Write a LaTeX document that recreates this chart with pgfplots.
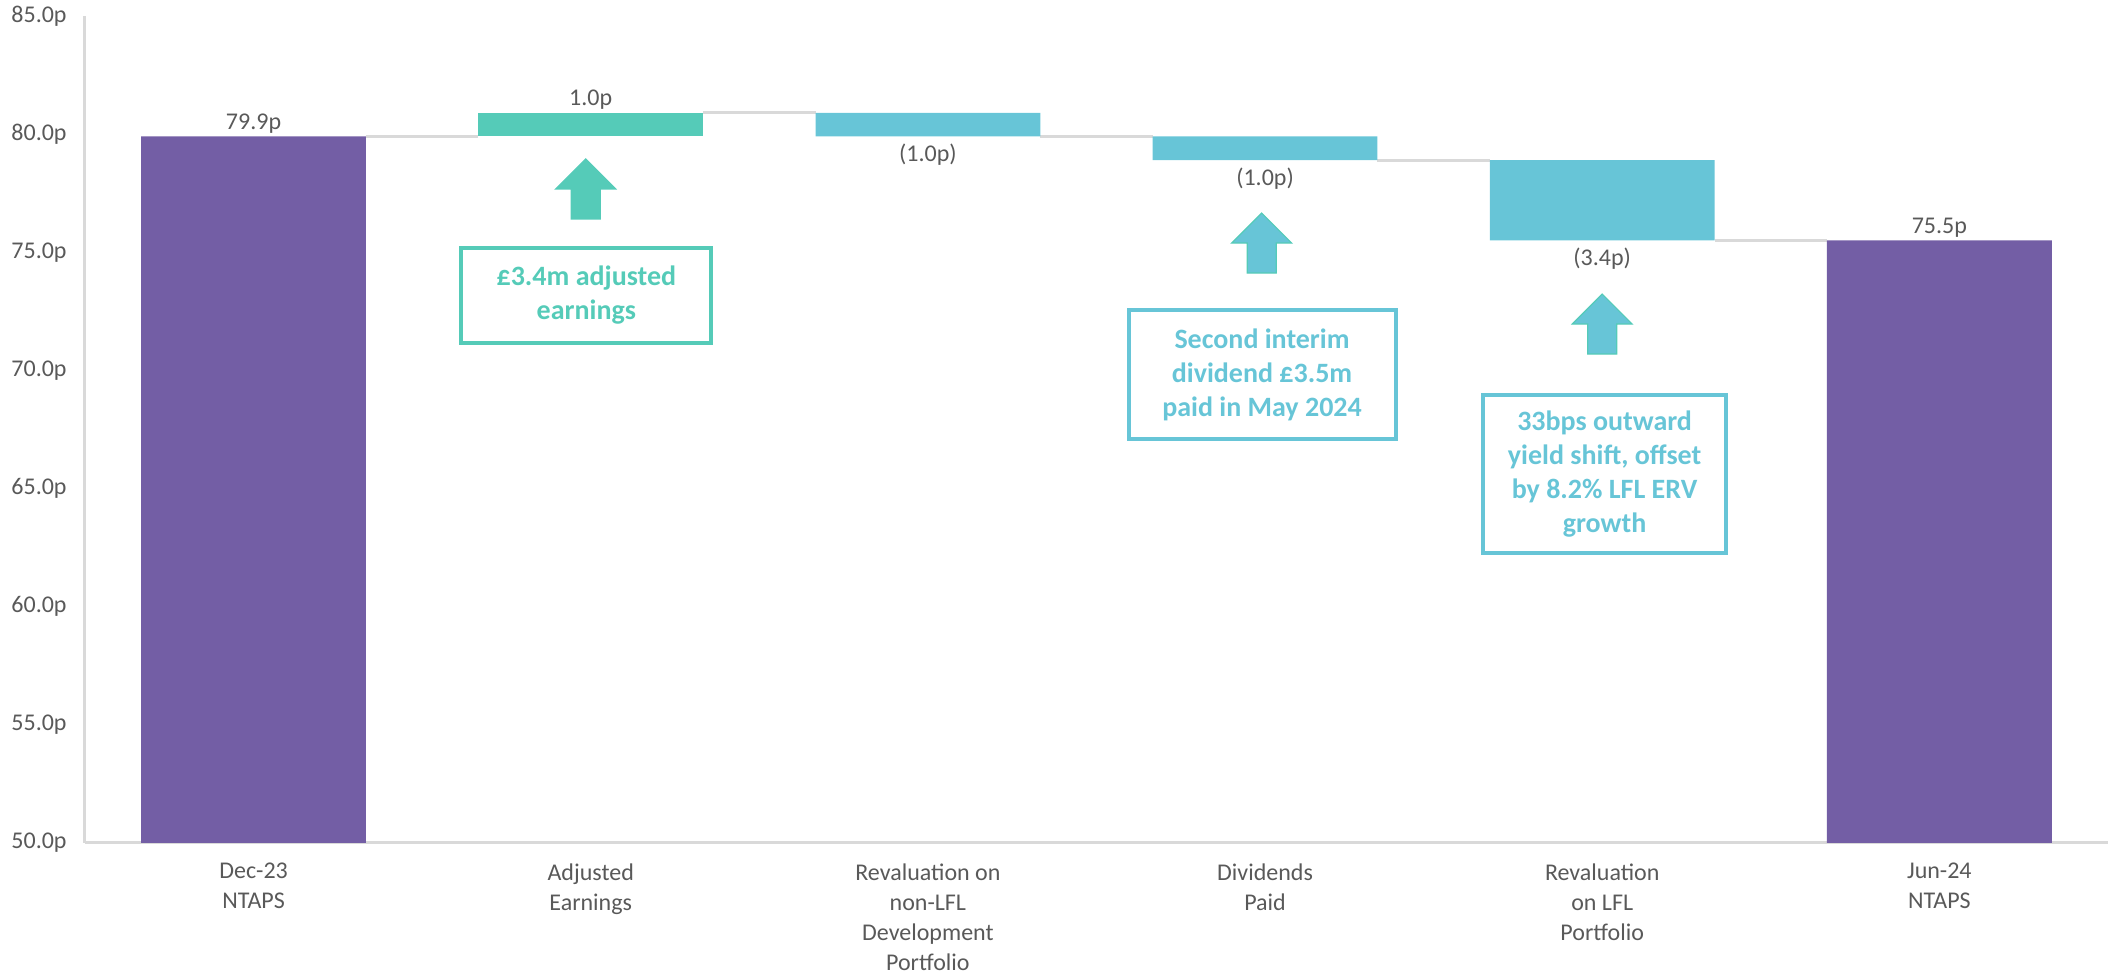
\documentclass[border=0pt]{standalone}
\usepackage{pgfplots}
\pgfplotsset{compat=1.18}
\usepackage{fontspec}
\setmainfont{Carlito}
\definecolor{purp}{HTML}{735EA5}
\definecolor{grn}{HTML}{55CBB8}
\definecolor{blu}{HTML}{67C5D7}
\definecolor{txt}{HTML}{595959}
\definecolor{axl}{HTML}{D9D9D9}
\newcommand{\blockarrow}[4]{%
  \draw[fill=#3, draw=#4, line width=0.6pt] (axis cs:#1,#2) -- ++(15pt,-15pt) -- ++(-7.75pt,0pt) -- ++(0pt,-15pt) -- ++(-14.5pt,0pt) -- ++(0pt,15pt) -- ++(-7.75pt,0pt) -- cycle;}
\begin{document}
\begin{tikzpicture}
\begin{axis}[
 scale only axis, width=1011.5pt, height=413.5pt,
 xmin=-0.5, xmax=5.5, ymin=50, ymax=85,
 axis x line=bottom, axis y line=left,
 axis line style={draw=axl, line width=1.5pt, -},
 ytick={50,55,...,85},
 xtick={0,...,5},
 xticklabels={{Dec-23\\NTAPS},{Adjusted\\Earnings},{Revaluation on\\non-LFL\\Development\\Portfolio},{Dividends\\Paid},{Revaluation\\on LFL\\Portfolio},{Jun-24\\NTAPS}},
 major tick length=0pt,
 tick style={draw=none},
 /pgf/number format/assume math mode=true,
 yticklabel={\pgfmathprintnumber[fixed,fixed zerofill,precision=1]{\tick}p},
 ticklabel style={font=\fontsize{12}{15}\selectfont, text=txt},
 yticklabel style={anchor=east, inner sep=0pt, xshift=-9pt},
 xticklabel style={align=center, anchor=north, inner sep=0pt, yshift=-10pt},
 ybar stacked, bar width=0.6667,
]
\addplot[fill=none, draw=none] coordinates {(0,0) (1,79.9) (2,79.9) (3,78.9) (4,75.5) (5,0)};
\addplot[fill=purp, draw=none] coordinates {(0,79.9) (1,0) (2,0) (3,0) (4,0) (5,75.5)};
\addplot[fill=grn, draw=none] coordinates {(0,0) (1,1.0) (2,0) (3,0) (4,0) (5,0)};
\addplot[fill=blu, draw=none] coordinates {(0,0) (1,0) (2,1.0) (3,1.0) (4,3.4) (5,0)};
% connectors
\draw[axl, line width=1.5pt] (axis cs:0.3333,79.9) -- (axis cs:0.6667,79.9);
\draw[axl, line width=1.5pt] (axis cs:1.3333,80.9) -- (axis cs:1.6667,80.9);
\draw[axl, line width=1.5pt] (axis cs:2.3333,79.9) -- (axis cs:2.6667,79.9);
\draw[axl, line width=1.5pt] (axis cs:3.3333,78.9) -- (axis cs:3.6667,78.9);
\draw[axl, line width=1.5pt] (axis cs:4.3333,75.5) -- (axis cs:4.6667,75.5);
% value labels
\node[font=\fontsize{12}{15}\selectfont, text=txt, inner sep=1.5pt, anchor=south] at (axis cs:0,79.9) {79.9p};
\node[font=\fontsize{12}{15}\selectfont, text=txt, inner sep=1.5pt, anchor=south] at (axis cs:1,80.9) {1.0p};
\node[font=\fontsize{12}{15}\selectfont, text=txt, inner sep=1.5pt, anchor=north, yshift=-2pt] at (axis cs:2,79.9) {(1.0p)};
\node[font=\fontsize{12}{15}\selectfont, text=txt, inner sep=1.5pt, anchor=north, yshift=-2pt] at (axis cs:3,78.9) {(1.0p)};
\node[font=\fontsize{12}{15}\selectfont, text=txt, inner sep=1.5pt, anchor=north, yshift=-2pt] at (axis cs:4,75.5) {(3.4p)};
\node[font=\fontsize{12}{15}\selectfont, text=txt, inner sep=1.5pt, anchor=south] at (axis cs:5,75.5) {75.5p};
% arrows
\blockarrow{0.985}{78.95}{grn}{grn}
\blockarrow{2.99}{76.66}{blu}{grn}
\blockarrow{4.0}{73.23}{blu}{grn}
% boxes
\node[draw=grn, line width=2pt, text=grn, font=\bfseries\fontsize{14}{17}\selectfont, align=center, minimum width=125pt, minimum height=47.5pt, inner sep=0pt] at (axis cs:0.987,73.17) {£3.4m adjusted\\earnings};
\node[draw=blu, line width=2pt, text=blu, font=\bfseries\fontsize{14}{17}\selectfont, align=center, minimum width=133.5pt, minimum height=64.5pt, inner sep=0pt] at (axis cs:2.991,69.83) {Second interim\\dividend £3.5m\\paid in May 2024};
\node[draw=blu, line width=2pt, text=blu, font=\bfseries\fontsize{14}{17}\selectfont, align=center, minimum width=121.5pt, minimum height=79pt, inner sep=0pt] at (axis cs:4.007,65.62) {33bps outward\\yield shift, offset\\by 8.2\% LFL ERV\\growth};
\end{axis}
\pgfresetboundingbox
\path (-42.5pt,-66pt) rectangle (1015.5pt,421.5pt);
\end{tikzpicture}
\end{document}
